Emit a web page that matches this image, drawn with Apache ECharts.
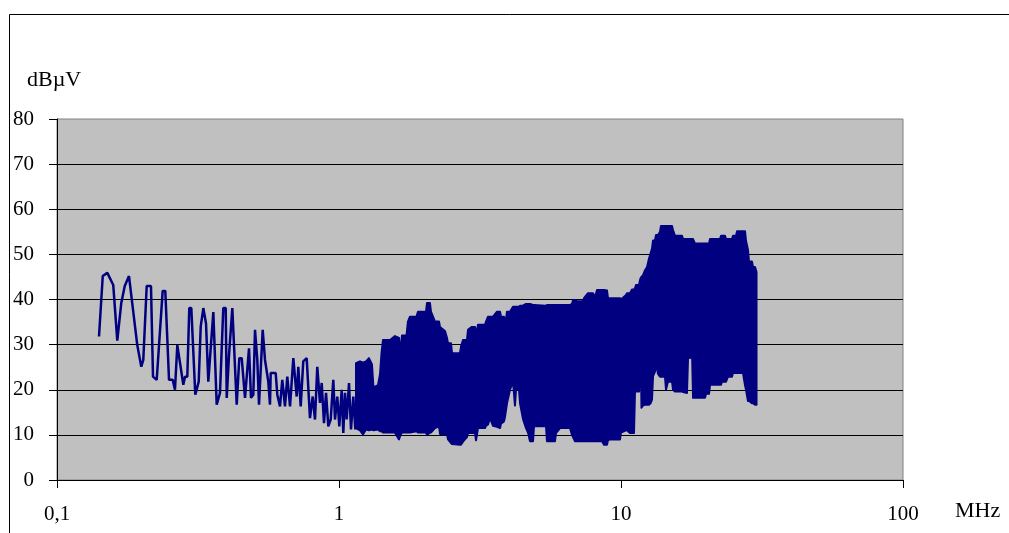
<!DOCTYPE html>
<html>
<head>
<meta charset="utf-8">
<script src="https://cdn.jsdelivr.net/npm/echarts@6/dist/echarts.min.js"></script>
<style>
html, body { margin: 0; padding: 0; background: #fff; }
#main { width: 1009px; height: 533px; }
</style>
</head>
<body>
<div id="main"></div>
<script>
// low band (0.15 - 1.15 MHz): single peaks readable one by one
var lowFreq = [0.1409, 0.1453, 0.1508, 0.1583, 0.1636, 0.1690, 0.1739, 0.1800, 0.1926, 0.1990,
	0.2023, 0.2080, 0.2154, 0.2190, 0.2257, 0.2370, 0.2421, 0.2496, 0.2572, 0.2620,
	0.2671, 0.2805, 0.2844, 0.2898, 0.2945, 0.2994, 0.3093, 0.3181, 0.3233, 0.3303,
	0.3376, 0.3440, 0.3584, 0.3684, 0.3784, 0.3888, 0.3965, 0.3998, 0.4074, 0.4185,
	0.4338, 0.4431, 0.4519, 0.4642, 0.4796, 0.4875, 0.4968, 0.5036, 0.5132, 0.5204,
	0.5363, 0.5465, 0.5614, 0.5692, 0.5725, 0.5848, 0.5964, 0.6043, 0.6177, 0.6293,
	0.6434, 0.6556, 0.6704, 0.6887, 0.7079, 0.7173, 0.7314, 0.7470, 0.7681, 0.7890,
	0.8067, 0.8221, 0.8375, 0.8561, 0.8683, 0.8846, 0.8995, 0.9164, 0.9345, 0.9545,
	0.9678, 0.9862, 1.0025, 1.0223, 1.0357, 1.0502, 1.0649, 1.0851, 1.1030, 1.1239, 1.1424];
var lowLevel = [31.8, 45.2, 45.9, 43.2, 30.9, 39.2, 43.0, 45.2, 29.9, 25.1,
	26.6, 43.0, 43.0, 22.9, 22.2, 41.9, 41.9, 22.2, 22.2, 20.0,
	29.9, 21.1, 22.9, 22.9, 38.1, 38.1, 18.9, 21.8, 34.0, 38.1,
	34.7, 21.8, 37.2, 16.7, 19.3, 38.1, 38.1, 18.2, 27.7, 38.1,
	16.7, 27.0, 27.0, 18.2, 29.2, 18.2, 18.9, 33.3, 26.6, 16.7,
	33.3, 26.6, 21.8, 16.7, 23.7, 23.7, 23.7, 18.9, 16.3, 22.2,
	16.3, 22.9, 16.3, 27.0, 18.5, 25.1, 16.3, 26.3, 27.0, 13.7,
	18.5, 13.4, 25.1, 17.1, 21.5, 12.6, 19.3, 11.9, 13.4, 22.2,
	13.4, 18.5, 11.9, 20.0, 10.4, 19.3, 13.4, 21.5, 11.2, 18.5, 11.2];

// dense band (1.15 - 30 MHz): the trace swings so fast that only its upper and lower edge can be read
var bandFreq = [1.149, 1.187, 1.216, 1.247, 1.277, 1.309, 1.325, 1.375, 1.398, 1.415,
	1.432, 1.517, 1.579, 1.632, 1.652, 1.672, 1.735, 1.756, 1.785, 1.883,
	1.906, 2.035, 2.051, 2.102, 2.119, 2.190, 2.263, 2.281, 2.376, 2.415,
	2.435, 2.496, 2.516, 2.685, 2.707, 2.752, 2.843, 2.867, 2.951, 3.036,
	3.061, 3.111, 3.294, 3.321, 3.376, 3.431, 3.517, 3.634, 3.725, 3.754,
	3.847, 3.879, 3.942, 4.040, 4.140, 4.208, 4.243, 4.348, 4.384, 4.493,
	4.604, 4.680, 4.757, 4.875, 4.915, 5.420, 5.465, 5.834, 5.882, 6.077,
	6.595, 6.704, 6.759, 6.870, 6.983, 7.333, 7.393, 7.638, 7.956, 8.087,
	8.220, 8.564, 8.705, 8.919, 8.992, 9.142, 9.920, 10.00, 10.42, 10.50,
	10.76, 10.94, 11.12, 11.21, 11.30, 11.58, 11.68, 11.75, 11.82, 11.97,
	12.17, 12.37, 12.57, 12.73, 12.88, 12.99, 13.20, 13.31, 13.53, 13.75,
	13.86, 14.32, 14.44, 14.68, 15.17, 15.29, 15.54, 16.46, 16.60, 17.14,
	17.28, 17.35, 17.57, 17.86, 18.01, 18.30, 19.86, 20.02, 20.52, 20.69,
	22.44, 22.63, 22.81, 23.38, 23.57, 23.96, 24.75, 24.96, 25.58, 25.78,
	27.08, 27.53, 27.75, 28.20, 28.44, 29.14, 29.38, 29.87, 30.24];
var bandTop = [25.9, 26.3, 26.0, 26.3, 27.0, 25.6, 20.5, 21.0, 23.5, 28.1,
	31.0, 31.0, 31.9, 31.5, 28.0, 32.0, 32.0, 35.1, 36.2, 36.2,
	37.3, 37.3, 39.2, 39.2, 37.3, 35.1, 35.1, 33.9, 33.0, 31.5,
	30.3, 30.3, 28.1, 28.1, 29.5, 31.0, 31.0, 33.3, 33.9, 33.9,
	32.0, 34.4, 34.4, 35.1, 36.2, 36.2, 36.2, 37.3, 37.3, 36.2,
	36.2, 34.0, 37.3, 37.3, 38.4, 38.4, 38.4, 38.4, 38.6, 38.7,
	39.0, 39.0, 39.0, 38.8, 38.8, 38.6, 38.8, 38.8, 38.8, 38.8,
	38.8, 39.0, 39.9, 39.9, 39.6, 39.6, 40.3, 41.4, 41.4, 40.5,
	42.1, 42.1, 42.1, 42.0, 40.3, 40.3, 40.3, 40.0, 41.0, 41.4,
	41.4, 42.2, 42.2, 42.5, 43.2, 43.2, 44.3, 44.8, 45.0, 45.4,
	46.5, 47.2, 49.1, 50.2, 51.3, 53.1, 53.1, 54.3, 54.3, 55.0,
	56.3, 56.3, 56.3, 56.3, 56.3, 55.4, 54.1, 54.1, 53.4, 53.4,
	53.4, 53.4, 53.4, 53.4, 53.4, 52.4, 52.4, 52.4, 52.4, 53.4,
	53.4, 54.1, 54.1, 54.1, 53.4, 53.4, 53.4, 54.1, 54.1, 55.1,
	55.1, 55.1, 53.0, 51.0, 48.4, 48.4, 47.2, 47.2, 46.1];
var bandBottom = [11.5, 11.0, 10.1, 11.2, 11.0, 11.2, 11.0, 11.2, 10.8, 10.8,
	10.5, 10.5, 10.5, 9.0, 10.0, 10.5, 10.5, 10.5, 10.5, 10.8,
	10.5, 10.5, 10.0, 10.5, 10.5, 11.5, 11.9, 10.2, 10.2, 10.2,
	9.0, 8.2, 8.0, 7.8, 7.8, 8.5, 9.5, 10.4, 10.4, 10.4,
	8.8, 11.5, 11.5, 12.0, 12.3, 13.7, 12.0, 11.8, 11.5, 12.5,
	13.0, 14.0, 17.0, 20.0, 21.8, 16.5, 20.0, 20.0, 17.0, 13.5,
	11.5, 10.5, 8.6, 8.6, 11.9, 11.9, 8.6, 8.6, 10.4, 11.5,
	11.5, 10.0, 9.5, 8.6, 8.6, 8.6, 8.6, 8.6, 8.6, 8.6,
	8.6, 8.6, 7.8, 7.8, 8.8, 9.0, 9.0, 10.5, 11.0, 11.0,
	10.4, 10.4, 10.4, 19.6, 19.6, 19.6, 22.9, 29.0, 16.0, 16.5,
	16.7, 16.7, 16.7, 17.0, 17.8, 23.0, 24.0, 25.9, 23.5, 22.9,
	22.9, 22.9, 20.0, 21.8, 21.8, 20.0, 19.6, 19.6, 19.5, 19.3,
	26.6, 33.0, 27.0, 28.5, 18.2, 18.2, 18.2, 19.1, 19.1, 21.1,
	21.1, 21.1, 21.8, 21.8, 21.8, 22.9, 22.9, 23.7, 23.7, 23.7,
	23.7, 21.0, 20.0, 17.5, 17.5, 17.0, 17.0, 16.7, 16.7];

var xTicks = [0.1, 1, 10, 100];

var serif = '"Liberation Serif", "Times New Roman", serif';
var chart = echarts.init(document.getElementById('main'));

var lowData = lowFreq.map(function (f, i) { return [f, lowLevel[i]]; });

var option = {
	animation: false,
	backgroundColor: '#ffffff',
	grid: {
		left: 57, top: 119, right: 106, bottom: 53,
		show: true,
		backgroundColor: '#c0c0c0',
		borderColor: '#808080',
		borderWidth: 1,
		containLabel: false,
		outerBoundsMode: 'none'
	},
	xAxis: {
		type: 'log',
		logBase: 10,
		min: xTicks[0],
		max: xTicks[xTicks.length - 1],
		axisLine: { show: true, lineStyle: { color: '#000', width: 1 } },
		axisTick: { show: true, inside: false, length: 8, lineStyle: { color: '#000' } },
		minorTick: { show: false },
		splitLine: { show: false },
		axisLabel: {
			color: '#000', fontFamily: serif, fontSize: 21, margin: 24,
			formatter: function (v) { return String(+v.toPrecision(3)).replace('.', ','); }
		}
	},
	yAxis: {
		type: 'value',
		min: 0, max: 80, interval: 10,
		axisLine: { show: true, lineStyle: { color: '#000', width: 1 } },
		axisTick: { show: true, inside: false, length: 8, lineStyle: { color: '#000' } },
		splitLine: { show: true, showMaxLine: false, lineStyle: { color: '#000', width: 1 } },
		axisLabel: { color: '#000', fontFamily: serif, fontSize: 21, margin: 23 }
	},
	graphic: [
		{
			type: 'rect', silent: true, z: -10,
			shape: { x: 9.5, y: 14.5, width: 1200, height: 1000 },
			style: { fill: 'none', stroke: '#000', lineWidth: 1 }
		},
		{
			type: 'text', silent: true, x: 27, y: 80,
			style: { text: 'dBµV', font: '22px ' + serif, fill: '#000', verticalAlign: 'middle' }
		},
		{
			type: 'text', silent: true, x: 955, y: 511,
			style: { text: 'MHz', font: '22px ' + serif, fill: '#000', verticalAlign: 'middle' }
		}
	],
	series: [
		{
			type: 'line',
			data: lowData,
			showSymbol: false,
			lineStyle: { color: '#000080', width: 2.5 },
			itemStyle: { color: '#000080' }
		},
		{
			type: 'custom',
			coordinateSystem: 'cartesian2d',
			data: [[bandFreq[0], bandBottom[0]]],
			renderItem: function (params, api) {
				var pts = [];
				for (var i = 0; i < bandFreq.length; i++) {
					pts.push(api.coord([bandFreq[i], bandTop[i]]));
				}
				for (var j = bandFreq.length - 1; j >= 0; j--) {
					pts.push(api.coord([bandFreq[j], bandBottom[j]]));
				}
				return {
					type: 'polygon',
					shape: { points: pts },
					style: { fill: '#000080', stroke: '#000080', lineWidth: 2, lineJoin: 'round' }
				};
			}
		}
	]
};
chart.setOption(option);
</script>
</body>
</html>
